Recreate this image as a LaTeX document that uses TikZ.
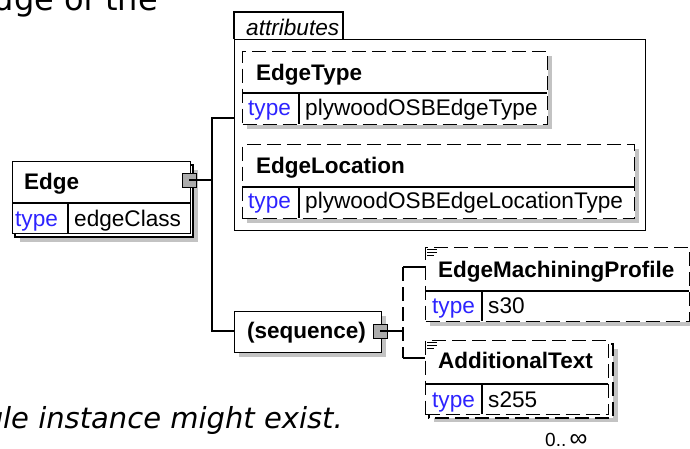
\documentclass[tikz,border=0pt]{standalone}
\usepackage{fontspec}
\setmainfont{Liberation Sans}
\newfontfamily\parafont{DejaVu Sans}

\definecolor{shadowgrey}{RGB}{195,195,195}
\definecolor{portgrey}{RGB}{172,172,172}
\definecolor{typeblue}{RGB}{45,35,255}

\tikzset{
  elbox/.style={rectangle, draw, line width=1.3pt, fill=white, anchor=north west, inner sep=0pt},
  optbox/.style={dash pattern=on 14pt off 6pt},
  shadowfill/.style={fill=shadowgrey, draw=none},
  port/.style={rectangle, draw, line width=1pt, fill=portgrey, minimum size=14pt, inner sep=0pt},
  wire/.style={line width=1.3pt},
  eltitle/.style={anchor=base west, inner sep=0pt, font=\fontsize{22.5}{26}\selectfont\bfseries},
  tname/.style={anchor=base west, inner sep=0pt, font=\fontsize{22.6}{26}\selectfont, text=typeblue},
  tval/.style={anchor=base west, inner sep=0pt, font=\fontsize{22.6}{26}\selectfont},
  paratext/.style={anchor=base east, inner sep=0pt, font=\parafont\fontsize{32}{36}\selectfont},
}

\begin{document}
\begin{tikzpicture}[x=1pt,y=-1pt]
\useasboundingbox (0,0) rectangle (690,448);
\clip (0,0) rectangle (690,448);

% surrounding text of the page
\node[paratext] (paratop) at (158,10) {edge of the};
\node[paratext, font=\parafont\itshape\fontsize{29}{33}\selectfont] (parabot) at (343,428) {single instance might exist.};

% Edge
\fill[shadowfill] (20,170) rectangle (198,242);
\draw[wire, fill=white] (15,165) rectangle (193,237);
\node[elbox, minimum width=178pt, minimum height=72pt] (edge) at (12,161) {};
\draw[wire] (12,203) -- (190,203);
\draw[wire] (68,203) -- (68,233);
\node[eltitle] (edgename) at (24,189) {Edge};
\node[tname] (edgetn) at (15,226) {type};
\node[tval] (edgetv) at (74,226) {edgeClass};
\node[port] (edgeport) at (189,180) {};

% attributes
\node[elbox, line width=1.2pt, minimum width=411pt, minimum height=191pt] (attr) at (234,39) {};
\draw[line width=1.2pt, fill=white] (attr.north west) -- ++(0,-27) -- ++(109,0) -- ++(0,27);
\node[anchor=base west, inner sep=0pt, font=\fontsize{22.6}{26}\selectfont\itshape] (attrlabel) at (246,35) {attributes};

\fill[shadowfill] (247,56) rectangle (552,129);
\node[elbox, optbox, minimum width=305pt, minimum height=73pt] (edgetype) at (242,51) {};
\draw[wire] (242,93) -- (547,93);
\draw[wire] (299,93) -- (299,124);
\node[eltitle] (edgetypename) at (256,80) {EdgeType};
\node[tname] (edgetypetn) at (248,115) {type};
\node[tval] (edgetypetv) at (305,115) {plywoodOSBEdgeType};

\fill[shadowfill] (247,149) rectangle (639,223);
\node[elbox, optbox, minimum width=392pt, minimum height=74pt] (edgeloc) at (242,144) {};
\draw[wire] (242,187) -- (634,187);
\draw[wire] (299,187) -- (299,218);
\node[eltitle] (edgelocname) at (256,173) {EdgeLocation};
\node[tname] (edgeloctn) at (248,208) {type};
\node[tval] (edgeloctv) at (305,208) {plywoodOSBEdgeLocationType};

% sequence
\fill[shadowfill] (239,316) rectangle (386,357);
\node[elbox, minimum width=147pt, minimum height=41pt] (seq) at (234,311) {};
\node[eltitle] (seqname) at (247,338) {(sequence)};
\node[port] (seqport) at (380,331) {};

% EdgeMachiningProfile
\fill[shadowfill] (430,252) rectangle (694,326);
\node[elbox, optbox, minimum width=264pt, minimum height=74pt] (machprof) at (425,247) {};
\draw[wire] (425,291) -- (689,291);
\draw[wire] (482,291) -- (482,321);
\draw[line width=0.8pt] (427,249) -- ++(10,0) (427,252) -- ++(10,0) (427,255) -- ++(7,0);
\node[eltitle] (machprofname) at (438,277) {EdgeMachiningProfile};
\node[tname] (machproftn) at (432,313) {type};
\node[tval] (machproftv) at (488,313) {s30};

% AdditionalText
\fill[shadowfill] (434,349) rectangle (618,422);
\draw[wire, optbox, fill=white] (429,344) rectangle (613,418);
\node[elbox, optbox, minimum width=183pt, minimum height=74pt] (addtext) at (425,340) {};
\draw[wire] (425,384) -- (608,384);
\draw[wire] (482,384) -- (482,414);
\draw[line width=0.8pt] (427,342) -- ++(10,0) (427,345) -- ++(10,0) (427,348) -- ++(7,0);
\node[eltitle] (addtextname) at (438,368) {AdditionalText};
\node[tname] (addtexttn) at (432,407) {type};
\node[tval] (addtexttv) at (488,407) {s255};
\node[anchor=base west, inner sep=0pt, font=\fontsize{19}{20}\selectfont] (addocc) at (545,446) {0..\,{\fontsize{25}{25}\selectfont ∞}};

% connectors
\coordinate (attrjoin) at (212,118);
\coordinate (seqjoin) at (212,331);
\coordinate (branchtop) at (403,267);
\coordinate (branchbot) at (403,358);
\draw[wire] (edgeport.center) -- (edgeport.center -| attrjoin);
\draw[wire] (attrjoin -| attr.west) -- (attrjoin) -- (seqjoin) -- (seqjoin -| seq.west);
\draw[wire] (seqport.center) -- (seqport.center -| branchtop);
\draw[wire, optbox] (branchtop) -- (branchbot);
\draw[wire] (branchtop) -- (branchtop -| machprof.west);
\draw[wire] (branchbot) -- (branchbot -| addtext.west);
\end{tikzpicture}
\end{document}
